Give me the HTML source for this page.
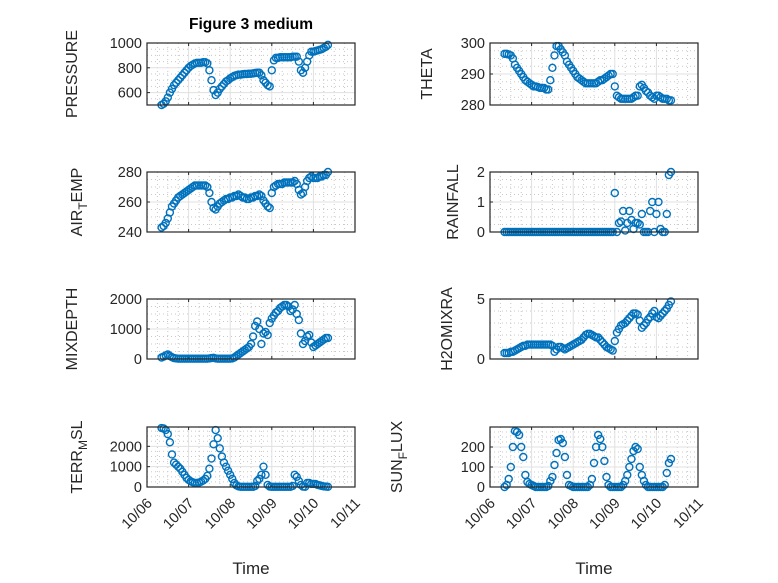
<!DOCTYPE html>
<html><head><meta charset="utf-8"><style>
body{margin:0;background:#fff;}
svg{display:block;font-family:"Liberation Sans",sans-serif;}
</style></head><body>
<svg id="fig" width="778" height="583"></svg>
<script>
const t0 = 0.35, dt = 0.05;
const xTickLabels = ["10/06","10/07","10/08","10/09","10/10","10/11"];
const pressure = [500,510,530,560,600,630,660,680,700,720, 740,760,780,800,815,825,835,840,840,840, 845,845,835,780,700,620,580,600,630,650, 670,690,700,715,725,735,740,745,745,748, 750,750,752,752,755,758,760,760,740,700, 680,660,650,780,860,880,880,885,885,885, 885,885,885,890,890,890,850,780,760,800, 850,900,930,930,935,940,945,950,960,970, 985];
const airTemp = [243,244,246,249,253,257,259,261,263,264, 265,266,267,268,269,270,271,271,271,271, 271,271,270,266,260,256,255,257,259,260, 261,262,262,263,263,264,264,265,264,263, 263,262,262,263,263,264,264,265,264,261, 259,257,256,266,270,271,272,272,272,273, 273,273,273,273,274,272,268,265,266,270, 274,276,277,276,276,276,277,277,278,278, 280];
const mixDepth = [50,80,120,150,100,60,30,20,10,10, 10,10,10,10,10,10,10,10,10,10, 10,10,10,20,30,40,20,10,10,10, 10,10,10,10,20,50,100,150,200,250, 300,350,400,500,750,1100,1250,1000,500,850, 900,800,1200,1350,1450,1550,1600,1700,1750,1800, 1800,1750,1600,1650,1800,1500,1300,850,500,600, 750,800,550,400,450,500,550,600,650,700, 700];
const terrMsl = [2900,2880,2800,2600,2200,1600,1200,1100,1000,900, 750,600,450,350,280,230,200,200,220,260, 320,400,550,900,1400,2100,2800,2400,1900,1500, 1200,1000,800,600,400,200,80,30,10,10, 10,10,10,10,10,50,300,400,600,1000, 600,100,20,10,10,10,10,10,10,10, 10,10,10,50,600,500,300,100,20,10, 200,200,150,150,150,100,80,50,30,20, 10];
const theta = [296.5,296.5,296.3,296,295,293,292,291,290,289, 288,287.5,287,286.5,286,286,285.8,285.5,285.5,285.5, 285,285,288,292,296,299,299,298,297,296, 294,293,292,291,290,289,288.5,288,287.5,287, 287,287,287,287,287,287.5,288,288,288.5,289, 289.5,290,290,286,283,282.5,282,282,282,282, 282,282,282.5,283,283,286,286.5,285.5,284.5,284, 283,282.5,282,283,283,282.5,282,282,282,281.5, 281.5];
const rainfall = [0,0,0,0,0,0,0,0,0,0, 0,0,0,0,0,0,0,0,0,0, 0,0,0,0,0,0,0,0,0,0, 0,0,0,0,0,0,0,0,0,0, 0,0,0,0,0,0,0,0,0,0, 0,0,0,1.3,0,0.3,0.35,0.7,0.05,0.3, 0.7,0.4,0.1,0.3,0.3,0.25,0.6,0,0,0, 0.7,1.0,0,0.6,1.0,0.1,0,0,0.6,1.9, 2.0];
const h2o = [0.5,0.5,0.5,0.6,0.6,0.7,0.8,0.9,1.0,1.1, 1.1,1.2,1.2,1.2,1.2,1.2,1.2,1.2,1.2,1.2, 1.2,1.2,1.2,1.1,0.6,0.8,1.0,1.0,0.9,0.8, 0.9,1.0,1.1,1.2,1.3,1.4,1.5,1.6,1.8,2.0, 2.1,2.1,2.0,1.9,1.8,1.8,1.6,1.4,1.2,1.0, 0.9,0.8,0.7,1.5,2.2,2.5,2.8,2.9,3.0,3.2, 3.4,3.6,3.8,3.8,3.7,3.2,2.6,2.8,3.0,3.3, 3.5,3.8,4.0,3.5,3.4,3.6,3.8,4.0,4.2,4.5, 4.8];
const sunFlux = [0,10,40,100,200,280,275,260,200,150, 60,25,15,10,5,0,0,0,0,0, 0,5,30,50,110,170,235,240,220,150, 60,10,5,0,0,0,0,0,0,0, 0,10,40,120,200,260,240,200,130,50, 10,0,0,0,0,0,0,10,30,60, 100,140,180,200,190,100,60,30,10,0, 0,0,0,0,0,0,0,10,70,120, 140];

const NS="http://www.w3.org/2000/svg";
const svg=document.getElementById('fig');
function mk(tag,attrs,parent){const e=document.createElementNS(NS,tag);for(const k in attrs)e.setAttribute(k,attrs[k]);(parent||svg).appendChild(e);return e;}

const panels=[
 {name:'pressure',data:pressure,x0:147,y0:43,y1:105,ymin:500,ymax:1000,ticks:[600,800,1000],minor:50,label:['PRESSURE'],lx:77},
 {name:'theta',data:theta,x0:490,y0:43,y1:105,ymin:280,ymax:300,ticks:[280,290,300],minor:2.5,label:['THETA'],lx:432},
 {name:'air-temp',data:airTemp,x0:147,y0:172,y1:232,ymin:240,ymax:280,ticks:[240,260,280],minor:5,label:['AIR','T','EMP'],lx:82},
 {name:'rainfall',data:rainfall,x0:490,y0:172,y1:232,ymin:0,ymax:2,ticks:[0,1,2],minor:0.25,label:['RAINFALL'],lx:458},
 {name:'mixdepth',data:mixDepth,x0:147,y0:299,y1:359,ymin:0,ymax:2000,ticks:[0,1000,2000],minor:250,label:['MIXDEPTH'],lx:77},
 {name:'h2omixra',data:h2o,x0:490,y0:299,y1:359,ymin:0,ymax:5,ticks:[0,5],minor:1,label:['H2OMIXRA'],lx:452},
 {name:'terr-msl',data:terrMsl,x0:147,y0:427,y1:487,ymin:0,ymax:2950,ticks:[0,1000,2000],minor:250,label:['TERR','M','SL'],lx:82,bottom:true},
 {name:'sun-flux',data:sunFlux,x0:490,y0:427,y1:487,ymin:0,ymax:300,ticks:[0,100,200],minor:25,label:['SUN','F','LUX'],lx:402,bottom:true}
];
const W=208;
panels.forEach(p=>{
 const g=mk('g',{});
 
 
 const H=p.y1-p.y0;
 const xs=d=>p.x0+d/5*W;
 const ys=v=>p.y1-(v-p.ymin)/(p.ymax-p.ymin)*H;
 mk('rect',{x:p.x0,y:p.y0,width:W,height:H,fill:'#fff'},g);
 for(let d=0.25;d<5;d+=0.25){if(Math.abs(d-Math.round(d))<1e-6)continue;mk('line',{x1:xs(d),x2:xs(d),y1:p.y0,y2:p.y1,stroke:'#c8c8c8','stroke-width':1,'stroke-dasharray':'1,3'},g);}
 for(let v=p.ymin+p.minor;v<p.ymax;v+=p.minor){if(p.ticks.some(t=>Math.abs(t-v)<1e-6))continue;mk('line',{x1:p.x0,x2:p.x0+W,y1:ys(v),y2:ys(v),stroke:'#c8c8c8','stroke-width':1,'stroke-dasharray':'1,3'},g);}
 for(let d=1;d<5;d++)mk('line',{x1:xs(d),x2:xs(d),y1:p.y0,y2:p.y1,stroke:'#e0e0e0','stroke-width':1},g);
 p.ticks.forEach(t=>{mk('line',{x1:p.x0,x2:p.x0+W,y1:ys(t),y2:ys(t),stroke:'#e0e0e0','stroke-width':1},g);
   const tl=mk('text',{x:p.x0-5,y:ys(t)+5,'text-anchor':'end','font-size':14.5,fill:'#262626'},g);tl.textContent=t;
   
   
   mk('line',{x1:p.x0,x2:p.x0+3,y1:ys(t),y2:ys(t),stroke:'#262626'},g);});
 for(let d=1;d<5;d++){mk('line',{x1:xs(d),x2:xs(d),y1:p.y1,y2:p.y1-3,stroke:'#262626'},g);mk('line',{x1:xs(d),x2:xs(d),y1:p.y0,y2:p.y0+3,stroke:'#262626'},g);}
 p.data.forEach((v,i)=>{const c=mk('circle',{cx:xs(t0+dt*i),cy:ys(v),r:3.5,fill:'none',stroke:'#0072BD','stroke-width':1.4},g);
   
   });
 mk('rect',{x:p.x0,y:p.y0,width:W,height:H,fill:'none',stroke:'#262626','stroke-width':1.2},g);
 const cy=(p.y0+p.y1)/2;
 const yl=mk('text',{x:0,y:0,'text-anchor':'middle','font-size':16,fill:'#262626',transform:`translate(${p.lx},${cy}) rotate(-90)`},g);
 
 
 if(p.label.length===1)yl.textContent=p.label[0];
 else{const a=mk('tspan',{},yl);a.textContent=p.label[0];const b=mk('tspan',{dy:5,'font-size':12},yl);b.textContent=p.label[1];const c2=mk('tspan',{dy:-5},yl);c2.textContent=p.label[2];}
 if(p.bottom){
  xTickLabels.forEach((s,k)=>{const tl=mk('text',{x:0,y:0,'text-anchor':'end','font-size':14.5,fill:'#262626',transform:`translate(${xs(k)+6},${p.y1+17}) rotate(-45)`},g);tl.textContent=s;
   
   });
  const xl=mk('text',{x:p.x0+W/2,y:574,'text-anchor':'middle','font-size':17,fill:'#262626'},g);xl.textContent='Time';
  
  
 }
});
const title=mk('text',{x:251,y:29,'text-anchor':'middle','font-size':15.5,'font-weight':'bold',fill:'#000'});
title.textContent='Figure 3 medium';


</script>
</body></html>
